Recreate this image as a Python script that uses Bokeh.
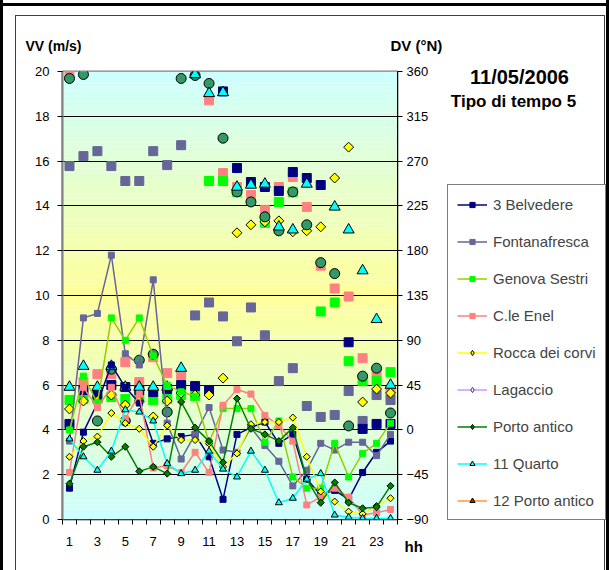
import numpy as np
from bokeh.plotting import figure
from bokeh.models import (Range1d, LinearAxis, FixedTicker, Legend, LegendItem,
                          InlineStyleSheet)
from bokeh.core.properties import value
from bokeh.embed import file_html
from bokeh.resources import INLINE

nan = float("nan")

hours = list(range(1, 25))

# wind speed (m/s), left axis
belvedere_vv = [1.4, 3.9, 5.2, 6.9, 5.9, 5.2, 3.4, 3.6, 3.7, 3.8, 2.8, 0.9,
                3.8, 4.1, 4.35, 3.4, 3.8, 1.8, 1.1, 1.3, 0.9, 2.1, 3.0, 3.5]
fontanafresca_vv = [3.5, 9.0, 9.2, 11.8, 7.4, 6.9, 10.7, 4.3, 2.7, 3.8, 5.0, 3.1,
                    3.0, 4.1, 3.3, 2.6, 1.5, 2.2, 3.4, 3.1, 3.45, 3.45, 2.85, 3.8]
genova_vv = [4.0, 6.4, 5.2, 9.0, 8.0, 9.0, 7.3, 6.0, 5.7, 5.5, 3.45, 4.95,
             4.95, 4.95, 3.45, 4.4, 1.9, 1.4, 1.4, 3.4, 1.9, 2.95, 3.4, 4.3]
enel_vv = [2.1, 5.9, 5.0, 5.9, 4.5, 5.6, 2.3, 2.4, 2.1, 3.0, 2.1, 5.1,
           5.8, 5.6, 4.65, 4.2, 3.5, 0.65, 1.0, 1.4, 1.0, 0.2, 0.3, 0.45]
rocca_vv = [2.8, 3.5, 3.7, 4.75, 4.3, 4.05, 3.25, 4.2, 3.55, 3.55, 3.4, 2.35,
            2.95, 4.25, 4.35, 4.35, 4.55, 2.8, 1.25, 0.8, 0.35, 0.25, 0.6, 0.95]
lagaccio_vv = [nan] * 24
porto_vv = [1.6, 3.25, 3.45, 2.8, 3.25, 2.15, 2.35, 2.05, 5.25, 4.1, 3.5, 2.55,
            5.4, 4.05, 3.8, 3.5, 4.1, 1.8, 0.75, 1.65, 0.75, 0.5, 0.55, 1.5]
quarto_vv = [3.6, 2.8, 2.2, 3.05, 4.9, 4.8, 4.4, 2.5, 2.05, 2.2, 3.05, 2.25,
             1.9, 3.05, 2.2, 0.75, 0.95, 1.8, 2.05, 0.2, 0.1, 0.05, 0.05, 0.05]
porto12_vv = [nan] * 24

# wind direction (degrees from N), right axis
belvedere_dv = [6, 40, 36, 45, 43, 40, 38, 41, 45, 44, 40, 340,
                263, 249, 244, 240, 259, 253, 246, nan, 88, 1, 6, 6]
fontanafresca_dv = [265, 275, 280, 265, 250, 250, 280, 266, 286, 115, 128, 114,
                    89, 123, 95, 49, 62, 24, 13, 15, 39, 9, 35, 30]
genova_dv = [30, 31, 31, 33, 31, 31, 30, 31, 35, 34, 250, 250,
             239, nan, 208, 229, 239, nan, 119, 128, 69, 49, 49, 58]
enel_dv = [359, 48, 56, 56, 68, 48, 73, 57, 55, 40, 331, 258,
           244, 236, 221, 244, 254, 224, 165, 142, 134, 72, 58, 38]
rocca_dv = [21, 29, 29, 35, 25, 29, 13, 29, 37, 35, 35, 52,
            198, 206, 209, 210, 199, 200, 204, 253, 284, 28, 41, 37]
porto_dv = [353, 357, 9, 61, 9, 70, 76, 18, 353, 356, 348, 293,
            239, 229, 214, 200, 239, 206, 168, 157, 4, 54, 62, 17]
quarto_dv = [43, 64, 43, 64, 43, 43, 43, 43, 62, 357, 338, 339,
             244, 246, 247, 204, 201, 247, nan, 224, 201, 160, 111, 45]

vv_ticks = list(range(0, 21, 2))
dv_ticks = list(range(-90, 361, 45))
hour_labels = list(range(1, 24, 2))

FONT = "Liberation Sans"
DIAMOND = np.pi / 4   # squares turned on a corner
W, H = 609, 570

# page frame: heavy black outer border and thin grey inner border
frame_css = ", ".join([
    "linear-gradient(#000,#000) 0px 3px / 609px 3px no-repeat",
    "linear-gradient(#000,#000) 0px 0px / 3px 570px no-repeat",
    "linear-gradient(#000,#000) 606px 0px / 3px 570px no-repeat",
    "linear-gradient(#404040,#404040) 15px 15px / 590px 1px no-repeat",
    "linear-gradient(#404040,#404040) 15px 15px / 1px 555px no-repeat",
    "linear-gradient(#404040,#404040) 604px 15px / 1px 555px no-repeat",
    "#ffffff",
])

# ---------------------------------------------------------------- chart
p = figure(width=W, height=H, output_backend="svg", toolbar_location=None,
           x_range=Range1d(0.5, 24.5), y_range=Range1d(0, 20),
           min_border_left=62, min_border_right=212, min_border_top=71,
           min_border_bottom=51)
p.styles = {"background": frame_css}
p.extra_y_ranges = {"dv": Range1d(-90, 360)}
p.background_fill_color = "white"
p.border_fill_color = None
p.outline_line_color = "#808080"
p.outline_line_width = 2

# plot-area gradient: turquoise at the edges, pale yellow in the middle
n_bands = 120
edges = np.linspace(0, 20, n_bands + 1)
mids = (edges[:-1] + edges[1:]) / 2
t = np.abs(mids - 10) / 10
edge_rgb = np.array([204, 255, 255])
mid_rgb = np.array([255, 255, 153])
band_colors = ["#%02x%02x%02x" % tuple(int(round(c)) for c in mid_rgb + (edge_rgb - mid_rgb) * f)
               for f in t]
p.quad(left=0.5, right=24.5, bottom=edges[:-1], top=edges[1:],
       fill_color=band_colors, line_color=None, level="image")

p.xgrid.visible = False
p.ygrid.grid_line_color = "black"
p.ygrid.grid_line_width = 1

xa = p.xaxis[0]
xa.ticker = FixedTicker(ticks=hour_labels, minor_ticks=[h + 0.5 for h in range(0, 25)])
xa.major_tick_line_color = None
xa.major_tick_out = 5
xa.minor_tick_in = 0
xa.minor_tick_out = 5
xa.minor_tick_line_color = "black"
xa.axis_line_color = "#404040"
xa.major_label_standoff = 12

ya = p.yaxis[0]
ya.ticker = FixedTicker(ticks=vv_ticks)
ya.axis_line_color = "#808080"
ya.axis_line_width = 2
ya.minor_tick_line_color = None

ra = LinearAxis(y_range_name="dv", ticker=FixedTicker(ticks=dv_ticks))
p.add_layout(ra, "right")
ra.axis_line_color = "black"
ra.minor_tick_line_color = None

for ax in (xa, ya, ra):
    ax.major_label_text_font = FONT
    ax.major_label_text_font_size = "13px"
    ax.major_label_text_color = "black"
for ax in (ya, ra):
    ax.major_tick_in = 0
    ax.major_tick_out = 5
    ax.major_tick_line_color = "black"
ya.major_label_standoff = 8
ra.major_label_standoff = 4

# wind direction markers
def dv_points(vals, marker, fill, line, size, angle=0.0):
    p.scatter(hours, vals, y_range_name="dv", marker=marker, size=size, angle=angle,
              fill_color=fill, line_color=line, line_width=1)

dv_points(enel_dv, "square", "#FF8080", "#FF8080", 9)
dv_points(genova_dv, "square", "#00FF00", "#00FF00", 9)
dv_points(fontanafresca_dv, "square", "#666699", "#666699", 9)
dv_points(belvedere_dv, "square", "#000080", "#000080", 9)
dv_points(rocca_dv, "square", "#FFFF00", "black", 7, DIAMOND)
dv_points(porto_dv, "circle", "#339966", "black", 10)
dv_points(quarto_dv, "triangle", "#00FFFF", "black", 11)

# wind speed lines: name, values, line colour, marker, marker angle,
# marker fill, marker outline, marker size, legend key marker
series = [
    ("3 Belvedere", belvedere_vv, "#000080", "square", 0.0, "#000080", "#000080", 6, "square"),
    ("Fontanafresca", fontanafresca_vv, "#666699", "square", 0.0, "#666699", "#666699", 6, "square"),
    ("Genova Sestri", genova_vv, "#99CC00", "square", 0.0, "#00FF00", "#00FF00", 6, "square"),
    ("C.le Enel", enel_vv, "#FF8080", "square", 0.0, "#FF8080", "#FF8080", 6, "square"),
    ("Rocca dei corvi", rocca_vv, "#FFFF00", "square", DIAMOND, "#FFFF00", "black", 5, "diamond"),
    ("Lagaccio", lagaccio_vv, "#CC99FF", "square", DIAMOND, "#FFFFFF", "#333366", 5, "diamond"),
    ("Porto antico", porto_vv, "#008000", "square", DIAMOND, "#008000", "black", 5, "diamond"),
    ("11 Quarto", quarto_vv, "#00FFFF", "triangle", 0.0, "#00FFFF", "black", 7, "triangle"),
    ("12 Porto antico", porto12_vv, "#FF9933", "triangle", 0.0, "#993300", "black", 7, "triangle"),
]

for name, vals, lc, marker, ang, mfill, mline, msize, key in series:
    p.line(hours, vals, line_color=lc, line_width=1.5)
    p.scatter(hours, vals, marker=marker, size=msize, angle=ang,
              fill_color=mfill, line_color=mline, line_width=1)

# ---------------------------------------------------------------- overlay
# a transparent full-page canvas on top of the chart for the captions and the
# legend, which sit outside the chart's plotting area
q = figure(width=W, height=H, output_backend="svg", toolbar_location=None,
           x_range=Range1d(0, W), y_range=Range1d(H, 0),
           x_axis_type=None, y_axis_type=None, min_border=0)
q.styles = {"position": "absolute", "left": "0px", "top": "0px"}
q.stylesheets = [InlineStyleSheet(
    css=":host { position: absolute !important; left: 0px !important; top: 0px !important; }")]
q.background_fill_color = None
q.border_fill_color = None
q.outline_line_color = None

# legend keys: each one mirrors the style of a wind speed series (no points drawn)
items = []
for name, vals, lc, marker, ang, mfill, mline, msize, key in series:
    r_line = q.line([nan], [nan], line_color=lc, line_width=1.5)
    r_mark = q.scatter([nan], [nan], marker=key, size=msize,
                       fill_color=mfill, line_color=mline, line_width=1)
    items.append(LegendItem(label=name, renderers=[r_line, r_mark]))

legend = Legend(items=items, location=(447, 50), orientation="vertical",
                border_line_color="black", border_line_width=1,
                background_fill_color="white", background_fill_alpha=1,
                label_text_font=FONT, label_text_font_size="15px",
                glyph_width=30, glyph_height=13, label_height=20,
                spacing=17, padding=9, margin=0, label_standoff=6)
q.add_layout(legend, "center")

def caption(text, x, y, size, align="left"):
    q.text(x=[x], y=[y], text=[text], text_font=value(FONT), text_font_style="bold",
           text_font_size=size, text_align=align, text_baseline="middle",
           text_color="black")

caption("VV (m/s)", 25, 45, "14px")
caption("DV (°N)", 390, 45, "15px")
caption("11/05/2006", 519, 76, "20px", "center")
caption("Tipo di tempo 5", 513, 101, "17px", "center")
caption("hh", 404, 546, "15px")

open("out.html", "w").write(file_html([p, q], INLINE))
